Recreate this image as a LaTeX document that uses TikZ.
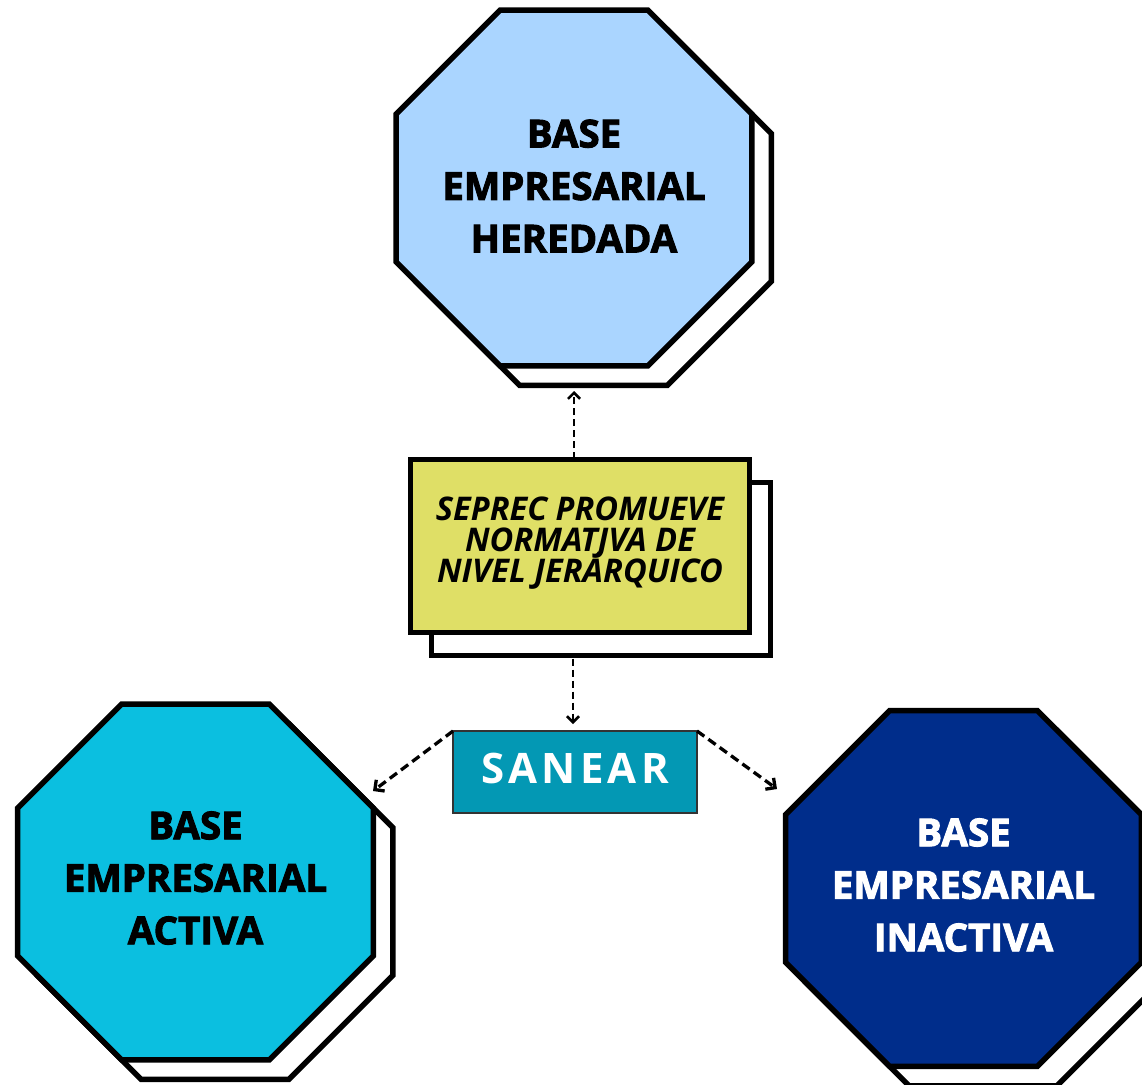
\documentclass[tikz,border=0pt]{standalone}
\usepackage{fontspec}
\setmainfont{Open Sans}[BoldFeatures={FakeBold=2.5}]
\newfontfamily\sanearfont{Open Sans}
\usetikzlibrary{shapes.geometric,arrows.meta}
\definecolor{herCol}{HTML}{AAD5FF}
\definecolor{actCol}{HTML}{0BBFE0}
\definecolor{inaCol}{HTML}{002D8B}
\definecolor{yelCol}{HTML}{DFDF66}
\definecolor{sanCol}{HTML}{0398B4}
\normallineskiplimit=-100pt
\AtBeginDocument{\lineskiplimit=-100pt\relax}
\tikzset{
  octa/.style={regular polygon,regular polygon sides=8,minimum size=385.3pt,inner sep=0pt,outer sep=0pt,draw=black,line width=5.5pt,miter limit=10},
  octashadow/.style={octa,fill=white},
  octatext/.style={inner sep=0pt,align=center,font=\fontsize{38.5}{52.5}\selectfont\bfseries},
  boxyel/.style={rectangle,draw=black,line width=5pt,inner sep=0pt,outer sep=0pt,minimum width=339pt,minimum height=173.5pt},
  connv/.style={draw=black,line width=2.6pt,dash pattern=on 7pt off 4pt,-{Straight Barb[length=6pt,width=12pt,line width=2.6pt]}},
  connd/.style={draw=black,line width=3.3pt,dash pattern=on 9pt off 5pt,-{Straight Barb[length=7pt,width=14pt,line width=3.3pt]}},
}
\begin{document}
\begin{tikzpicture}[x=1pt,y=-1pt]
\useasboundingbox (0,0) rectangle (1142,1084);
\clip (0,0) rectangle (1142,1084);
% top octagon
\node[octashadow] (herS) at (593.5,207.5) {};
\node[octa,fill=herCol] (her) at (574,188) {};
\node[octatext] (herT) at (574,186) {BASE\\EMPRESARIAL\\HEREDADA};
% yellow box
\node[boxyel,fill=white] (yelS) at (601.25,568.75) {};
\node[boxyel,fill=yelCol] (yel) at (580,545.75) {};
\node[font=\fontsize{32.6}{31}\selectfont\bfseries\itshape,align=center,inner sep=0pt] (yelT) at (580,543) {SEPREC PROMUEVE\\NORMATJVA DE\\NIVEL JERÁRQUICO};
% sanear
\node[rectangle,draw=black!80,line width=2pt,fill=sanCol,minimum width=244pt,minimum height=82pt,inner sep=0pt,outer sep=0pt] (san) at (575,772) {};
\node[text=white,inner sep=0pt,font=\fontsize{42}{42}\selectfont\sanearfont\bfseries] (sanT) at (575,768) {\addfontfeature{LetterSpace=10}SANEAR};
% left octagon
\node[octashadow] (actS) at (215,901.5) {};
\node[octa,fill=actCol] (act) at (195.5,882) {};
\node[octatext] (actT) at (195.5,878) {BASE\\EMPRESARIAL\\ACTIVA};
% right octagon
\node[octashadow] (inaS) at (983,908) {};
\node[octa,fill=inaCol] (ina) at (963.5,888.5) {};
\node[octatext,text=white] (inaT) at (963.5,885) {BASE\\EMPRESARIAL\\INACTIVA};
% arrow ends
\coordinate (tipUp) at (574,391);
\coordinate (tipDown) at (573,724);
\coordinate (tipLeft) at (373,791);
\coordinate (tipRight) at (777,789);
\draw[connv] (yel.north -| tipUp) -- (tipUp);
\draw[connv,shorten <=3pt] (yelS.south -| tipDown) -- (tipDown);
\draw[connd] (san.north west) -- (tipLeft);
\draw[connd] (san.north east) -- (tipRight);
\end{tikzpicture}
\end{document}
